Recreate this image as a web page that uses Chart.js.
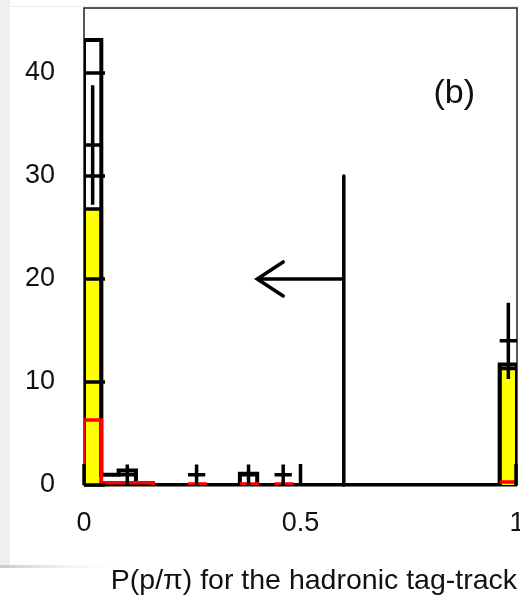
<!DOCTYPE html>
<html lang="en">
<head>
    <meta charset="UTF-8">
    <title>P(p/π) for the hadronic tag-track</title>
    <script src="https://cdn.jsdelivr.net/npm/chart.js"></script>
    <style>
        html, body { margin: 0; padding: 0; background: #fff; }
        canvas { display: block; }
    </style>
</head>
<body>
    <canvas id="hist" width="520" height="596"></canvas>
    <script>
        // bin edges of the P(p/pi) histogram, 25 bins of 0.04
        const binEdges = [0, 0.04, 0.08, 0.12, 0.16, 0.2, 0.24, 0.28, 0.32, 0.36, 0.4, 0.44, 0.48,
                          0.52, 0.56, 0.6, 0.64, 0.68, 0.72, 0.76, 0.8, 0.84, 0.88, 0.92, 0.96, 1];

        // expected total (black outline), signal (yellow) and background (red)
        const totalCounts  = [43.2, 1.0, 1.4, 0, 0, 0, 0, 0, 0, 1.1, 0, 0, 0, 0, 0, 0, 0, 0, 0, 0, 0, 0, 0, 0, 11.7];
        const signalCounts = [26.8, 0, 0, 0, 0, 0, 0, 0, 0, 0, 0, 0, 0, 0, 0, 0, 0, 0, 0, 0, 0, 0, 0, 0, 11.3];
        const bkgCounts    = [6.3, 0.22, 0.22, 0.22, 0, 0, 0.1, 0, 0, 0.1, 0, 0.1, 0, 0, 0, 0, 0, 0, 0, 0, 0, 0, 0, 0, 0.3];

        // observed events with errors
        const dataX   = [0.02, 0.10, 0.26, 0.38, 0.46, 0.98];
        const dataY   = [33, 1, 1, 1, 1, 14];
        const dataErr = [5.8, 1, 1, 1, 1, 3.7];

        // selection cut and arrow
        const cutValue = 0.6;
        const cutTop = 30;
        const arrowLevel = 20;
        const arrowEnd = 0.4;

        const xTicks = [0, 0.5, 1];
        const xTickLabels = ['0', '0.5', '1'];
        const yTicks = [0, 10, 20, 30, 40];
        const yMax = 46.3;

        const panelLabel = '(b)';
        const panelLabelAt = { x: 0.855, y: 38 };

        const FONT = '"Liberation Sans", Arial, sans-serif';
        const binWidth = binEdges[1] - binEdges[0];

        // turn bin contents into a closed stepped outline
        function histPoints(counts) {
            const n = counts.length;
            const pts = [{ x: binEdges[0], y: 0 }];
            counts.forEach((c, i) => pts.push({ x: binEdges[i], y: c }));
            pts.push({ x: binEdges[n], y: counts[n - 1] });
            pts.push({ x: binEdges[n], y: 0 });
            return pts;
        }

        const backdrop = {
            id: 'backdrop',
            beforeDraw(chart) {
                const c = chart.ctx;
                c.save();
                c.fillStyle = '#fff';
                c.fillRect(0, 0, chart.width, chart.height);
                c.fillStyle = '#efefef';
                c.fillRect(0, 0, 10, 566);
                const g = c.createLinearGradient(0, 0, 130, 0);
                g.addColorStop(0, '#c9c9c9');
                g.addColorStop(1, 'rgba(255,255,255,0)');
                c.fillStyle = g;
                c.fillRect(0, 565, 130, 3);
                c.fillStyle = '#ececec';
                c.fillRect(10, 6, chart.width - 10, 1);
                c.restore();
            }
        };

        // box around the plot area, drawn under the histograms
        const frame = {
            id: 'frame',
            beforeDatasetsDraw(chart) {
                const { ctx: c, chartArea: a } = chart;
                c.save();
                c.strokeStyle = '#222';
                c.lineWidth = 1.5;
                c.strokeRect(a.left, a.top, a.right - a.left, a.bottom - a.top);
                c.strokeStyle = '#000';
                c.lineWidth = 3;
                c.beginPath();
                c.moveTo(a.left, a.bottom);
                c.lineTo(a.right, a.bottom);
                c.stroke();
                c.restore();
            },
            // inward tick marks on top of everything
            afterDraw(chart) {
                const { ctx: c, chartArea: a, scales: { x, y } } = chart;
                const len = 21;
                c.save();
                c.strokeStyle = '#000';
                c.lineWidth = 3.5;
                c.beginPath();
                x.ticks.forEach(t => {
                    const px = Math.min(x.getPixelForValue(t.value), a.right - 1);
                    c.moveTo(px, a.bottom);
                    c.lineTo(px, a.bottom - len);
                });
                y.ticks.forEach(t => {
                    const py = y.getPixelForValue(t.value);
                    c.moveTo(a.left, py);
                    c.lineTo(a.left + len, py);
                });
                c.stroke();

                c.fillStyle = '#111';
                c.font = '34px ' + FONT;
                c.textAlign = 'center';
                c.textBaseline = 'middle';
                c.fillText(panelLabel, x.getPixelForValue(panelLabelAt.x), y.getPixelForValue(panelLabelAt.y));
                c.restore();
            }
        };

        const dataCrosses = {
            id: 'dataCrosses',
            afterDatasetsDraw(chart) {
                const { ctx: c, scales: { x, y } } = chart;
                c.save();
                c.strokeStyle = '#000';
                c.lineWidth = 3.5;
                c.beginPath();
                dataX.forEach((xv, i) => {
                    const px = x.getPixelForValue(xv);
                    const py = y.getPixelForValue(dataY[i]);
                    c.moveTo(x.getPixelForValue(xv - binWidth / 2), py);
                    c.lineTo(x.getPixelForValue(xv + binWidth / 2), py);
                    c.moveTo(px, y.getPixelForValue(Math.max(0, dataY[i] - dataErr[i])));
                    c.lineTo(px, y.getPixelForValue(dataY[i] + dataErr[i]));
                });
                c.stroke();

                // cut line with arrow pointing to the accepted side
                const cx = x.getPixelForValue(cutValue);
                const ay = y.getPixelForValue(arrowLevel);
                const tip = x.getPixelForValue(arrowEnd);
                c.lineWidth = 3.5;
                c.lineCap = 'round';
                c.beginPath();
                c.moveTo(cx, y.getPixelForValue(0));
                c.lineTo(cx, y.getPixelForValue(cutTop));
                c.moveTo(cx, ay);
                c.lineTo(tip, ay);
                c.moveTo(tip + 26, ay - 17);
                c.lineTo(tip, ay);
                c.lineTo(tip + 26, ay + 17);
                c.stroke();
                c.restore();
            }
        };

        const lineStyle = {
            stepped: true,
            pointRadius: 0,
            borderJoinStyle: 'miter',
            borderCapStyle: 'butt',
            tension: 0
        };

        const ctx = document.getElementById('hist').getContext('2d');
        const histogram = new Chart(ctx, {
            type: 'line',
            data: {
                datasets: [
                    Object.assign({
                        label: 'signal',
                        data: histPoints(signalCounts),
                        fill: 'origin',
                        backgroundColor: '#ffff00',
                        borderColor: '#000',
                        borderWidth: 3.5,
                        order: 3
                    }, lineStyle),
                    Object.assign({
                        label: 'total',
                        data: histPoints(totalCounts),
                        fill: false,
                        borderColor: '#000',
                        borderWidth: 4,
                        order: 2
                    }, lineStyle),
                    Object.assign({
                        label: 'background',
                        data: histPoints(bkgCounts),
                        fill: false,
                        borderColor: '#ff0000',
                        borderWidth: 3.5,
                        order: 1,
                        // leave empty bins on the axis line
                        segment: {
                            borderColor: s => (s.p0.parsed.y === 0 && s.p0.parsed.x !== s.p1.parsed.x)
                                ? 'rgba(0,0,0,0)' : undefined
                        }
                    }, lineStyle)
                ]
            },
            options: {
                responsive: false,
                animation: false,
                layout: { padding: { top: 8, right: 3, left: 0, bottom: 0 } },
                plugins: {
                    legend: { display: false },
                    tooltip: { enabled: false }
                },
                scales: {
                    x: {
                        type: 'linear',
                        min: 0,
                        max: 1,
                        grid: { display: false, drawTicks: false },
                        border: { display: false },
                        afterBuildTicks: s => { s.ticks = xTicks.map(v => ({ value: v })); },
                        afterFit: s => { s.height = 111; s.paddingLeft = 0; s.paddingRight = 0; },
                        ticks: {
                            color: '#111',
                            font: { family: FONT, size: 27 },
                            padding: 22,
                            maxRotation: 0,
                            autoSkip: false,
                            callback: (v, i) => xTickLabels[i]
                        },
                        title: {
                            display: true,
                            text: 'P(p/π) for the hadronic tag-track',
                            align: 'end',
                            color: '#111',
                            font: { family: FONT, size: 28.5, lineHeight: 1 },
                            padding: { top: 0, bottom: 1 }
                        }
                    },
                    y: {
                        min: 0,
                        max: yMax,
                        grid: { display: false, drawTicks: false },
                        border: { display: false },
                        afterBuildTicks: s => { s.ticks = yTicks.map(v => ({ value: v })); },
                        afterFit: s => { s.width = 84; s.paddingTop = 0; s.paddingBottom = 0; },
                        ticks: {
                            color: '#111',
                            font: { family: FONT, size: 27 },
                            padding: 29,
                            autoSkip: false
                        }
                    }
                }
            },
            plugins: [backdrop, frame, dataCrosses]
        });
    </script>
</body>
</html>
